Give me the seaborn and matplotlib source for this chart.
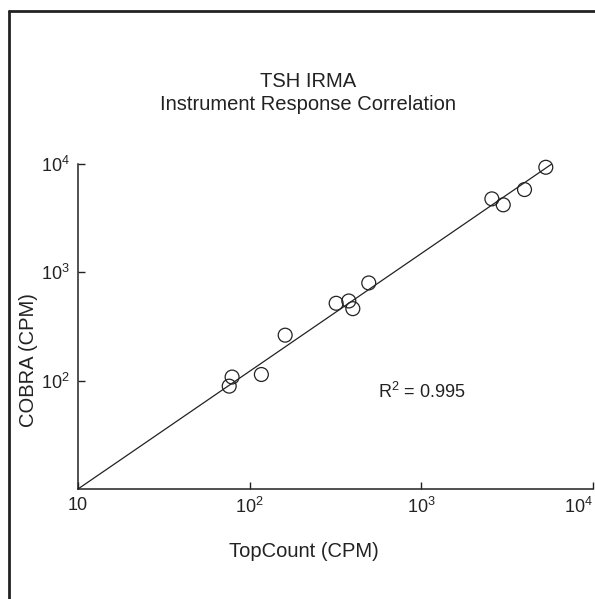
import matplotlib
matplotlib.use("Agg")
import matplotlib.pyplot as plt
from matplotlib.lines import Line2D
import pandas as pd
import seaborn as sns

# TSH IRMA readings, counts per minute
topcount_cpm = [76, 79, 117, 161, 319, 378, 399, 494, 2576, 3000, 3990, 5310]
cobra_cpm = [89, 108, 114, 263, 518, 544, 462, 798, 4766, 4198, 5808, 9330]

# regression line end points
fit_x = [10, 5750]
fit_y = [10, 10000]

x_ticks = [10, 100, 1000, 10000]
x_tick_labels = ["10", "$10^2$", "$10^3$", "$10^4$"]
y_ticks = [100, 1000, 10000]
y_tick_labels = ["$10^2$", "$10^3$", "$10^4$"]

r2_text = "R$^2$ = 0.995"

sns.set_style("ticks")
plt.rcParams["font.family"] = ["Liberation Sans", "DejaVu Sans"]
plt.rcParams["mathtext.fontset"] = "custom"
plt.rcParams["mathtext.rm"] = "Liberation Sans"
plt.rcParams["mathtext.it"] = "Liberation Sans:italic"
plt.rcParams["mathtext.bf"] = "Liberation Sans:bold"

ink = "#222222"
df = pd.DataFrame({"topcount": topcount_cpm, "cobra": cobra_cpm})
fit = pd.DataFrame({"x": fit_x, "y": fit_y})

fig = plt.figure(figsize=(5.95, 5.99), dpi=100)
ax = fig.add_axes([78 / 595, 1 - 489 / 599, 515 / 595, 325 / 599])

sns.lineplot(data=fit, x="x", y="y", ax=ax, color=ink, linewidth=0.9)
sns.scatterplot(
    data=df, x="topcount", y="cobra", ax=ax,
    marker="o", s=100, facecolors="none", edgecolor=ink, linewidth=0.9,
    clip_on=False,
)

ax.set_xscale("log")
ax.set_yscale("log")
ax.set_xlim(10, 10000)
ax.set_ylim(10, 10000)
ax.set_xticks(x_ticks)
ax.set_xticklabels(x_tick_labels)
ax.set_yticks(y_ticks)
ax.set_yticklabels(y_tick_labels)
ax.minorticks_off()
ax.tick_params(direction="in", length=5, width=1, color=ink,
               labelsize=13, labelcolor=ink, pad=6)
# last x label sits against the right edge
ax.get_xticklabels()[-1].set_horizontalalignment("right")
ax.set_xlabel("")
ax.set_ylabel("")
for side in ["top", "right"]:
    ax.spines[side].set_visible(False)
for side in ["left", "bottom"]:
    ax.spines[side].set_color(ink)
    ax.spines[side].set_linewidth(1.1)
ax.set_facecolor("white")

ax.text(378 / 595, 1 - 398 / 599, r2_text, transform=fig.transFigure,
        fontsize=13, color=ink, ha="left", va="baseline")

fig.text(308 / 595, 1 - 87 / 599, "TSH IRMA", fontsize=14.5, color=ink,
         ha="center", va="baseline")
fig.text(308 / 595, 1 - 110 / 599, "Instrument Response Correlation",
         fontsize=14.5, color=ink, ha="center", va="baseline")
fig.text(304 / 595, 1 - 557 / 599, "TopCount (CPM)", fontsize=14.5,
         color=ink, ha="center", va="baseline")
fig.text(28 / 595, 1 - 360 / 599, "COBRA (CPM)", fontsize=14.5, color=ink,
         ha="center", va="center", rotation=90)

# outer frame (only left and top edges are inside the picture)
fig.add_artist(Line2D([9 / 595, 9 / 595], [0, 1 - 11 / 599],
                      transform=fig.transFigure, color=ink, linewidth=2))
fig.add_artist(Line2D([9 / 595, 1], [1 - 11 / 599, 1 - 11 / 599],
                      transform=fig.transFigure, color=ink, linewidth=2))

fig.savefig("out.png", dpi=100, facecolor="white")
